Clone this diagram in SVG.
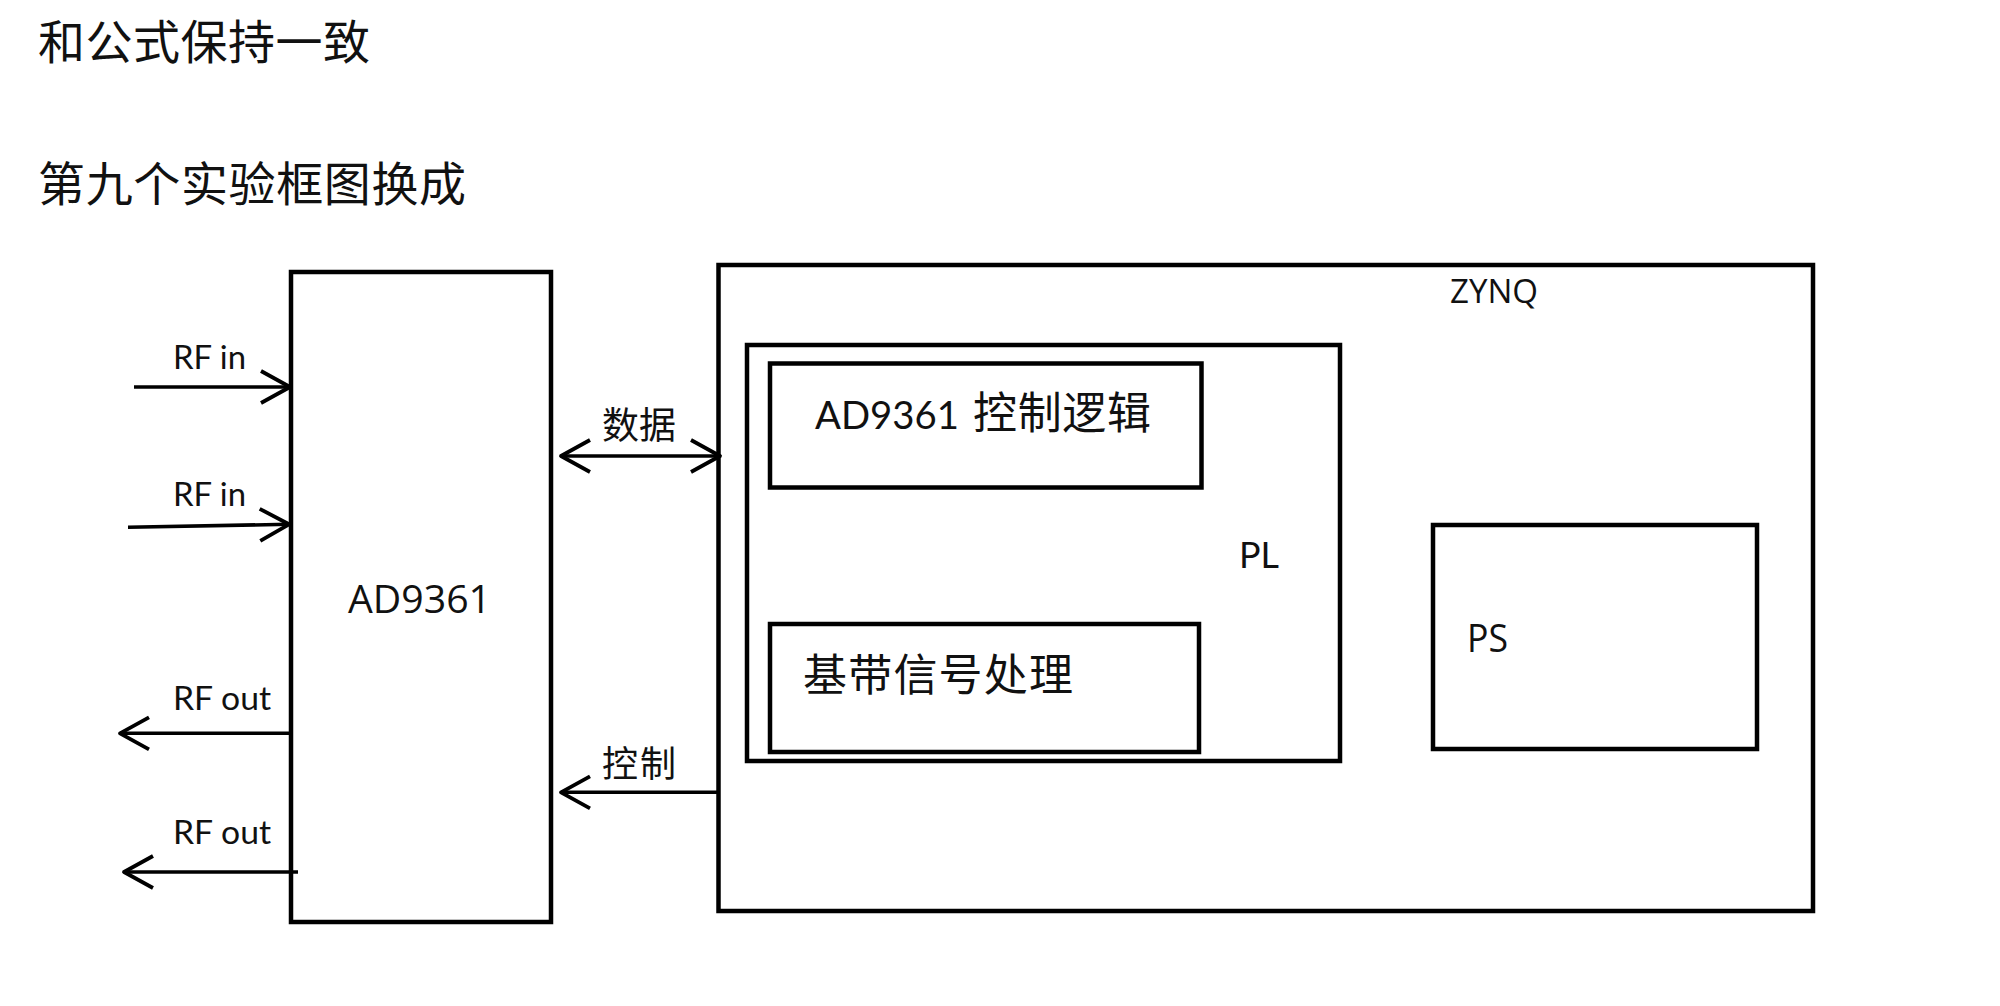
<svg xmlns="http://www.w3.org/2000/svg" width="2000" height="1006" viewBox="0 0 2000 1006">
<style>
.box{fill:none;stroke:#000;stroke-width:4.5}
.ln{fill:none;stroke:#000;stroke-width:3.6}
.cjk{font-family:"Noto Sans CJK SC","Noto Sans CJK JP",sans-serif;fill:#111}
.lat{font-family:Lato,"Liberation Sans",sans-serif;fill:#111}
.wide{font-family:"Open Sans","Liberation Sans",sans-serif;fill:#111}
</style>
<defs>
<marker id="chev" viewBox="-34 -20 38 40" markerWidth="38" markerHeight="40" refX="0" refY="0" orient="auto-start-reverse" markerUnits="userSpaceOnUse" overflow="visible">
<path d="M -29 -16 L 0 0 L -29 16" fill="none" stroke="#000" stroke-width="3.8" stroke-linejoin="round" stroke-linecap="butt"/>
</marker>
</defs>
<rect x="0" y="0" width="2000" height="1006" fill="#fff"/>
<g id="titles">
<text class="cjk" x="38" y="59" font-size="47" textLength="332" lengthAdjust="spacing">和公式保持一致</text>
<text class="cjk" x="38" y="201" font-size="47" textLength="428" lengthAdjust="spacing">第九个实验框图换成</text>
</g>
<g id="node-ad9361">
<rect class="box" x="291" y="272" width="260" height="650"/>
<text class="wide" x="348" y="612.7" font-size="38" textLength="143" lengthAdjust="spacingAndGlyphs">AD9361</text>
</g>
<g id="node-zynq">
<rect class="box" x="718.5" y="265" width="1094.5" height="646"/>
<text class="wide" x="1450" y="303" font-size="33" textLength="88" lengthAdjust="spacingAndGlyphs">ZYNQ</text>
</g>
<g id="node-pl">
<rect class="box" x="747" y="345" width="593" height="416"/>
<text class="lat" x="1239" y="568.3" font-size="37" textLength="40" lengthAdjust="spacingAndGlyphs">PL</text>
</g>
<g id="node-ctrl-logic">
<rect class="box" x="770" y="363.5" width="431.5" height="124"/>
<text x="815" y="429.3"><tspan class="lat" font-size="38.5" textLength="144" lengthAdjust="spacingAndGlyphs">AD9361</tspan><tspan class="cjk" x="973" font-size="44" textLength="178" lengthAdjust="spacing">控制逻辑</tspan></text>
</g>
<g id="node-baseband">
<rect class="box" x="770" y="624" width="429" height="128"/>
<text class="cjk" x="803" y="691" font-size="44" textLength="270" lengthAdjust="spacing">基带信号处理</text>
</g>
<g id="node-ps">
<rect class="box" x="1433" y="525" width="324" height="224"/>
<text class="wide" x="1467" y="652.4" font-size="39" textLength="41" lengthAdjust="spacingAndGlyphs">PS</text>
</g>
<g id="connectors">
<line class="ln" x1="134" y1="387" x2="290" y2="387" marker-end="url(#chev)"/>
<line class="ln" x1="128" y1="527.3" x2="289" y2="524.3" marker-end="url(#chev)"/>
<line class="ln" x1="291" y1="733.3" x2="120" y2="733.3" marker-end="url(#chev)"/>
<line class="ln" x1="298" y1="872" x2="124" y2="872" marker-end="url(#chev)"/>
<line class="ln" x1="561" y1="456" x2="720" y2="456" marker-start="url(#chev)" marker-end="url(#chev)"/>
<line class="ln" x1="720" y1="792.3" x2="561" y2="792.3" marker-end="url(#chev)"/>
</g>
<g id="labels">
<text class="lat" x="173" y="369.3" font-size="33" textLength="73" lengthAdjust="spacingAndGlyphs">RF in</text>
<text class="lat" x="173" y="505.5" font-size="33" textLength="73" lengthAdjust="spacingAndGlyphs">RF in</text>
<text class="lat" x="173" y="710" font-size="33" textLength="98" lengthAdjust="spacingAndGlyphs">RF out</text>
<text class="lat" x="173" y="844.3" font-size="33" textLength="98" lengthAdjust="spacingAndGlyphs">RF out</text>
<text class="cjk" x="602" y="439" font-size="37" textLength="74" lengthAdjust="spacing">数据</text>
<text class="cjk" x="602" y="776.5" font-size="36" textLength="74" lengthAdjust="spacing">控制</text>
</g>
</svg>
